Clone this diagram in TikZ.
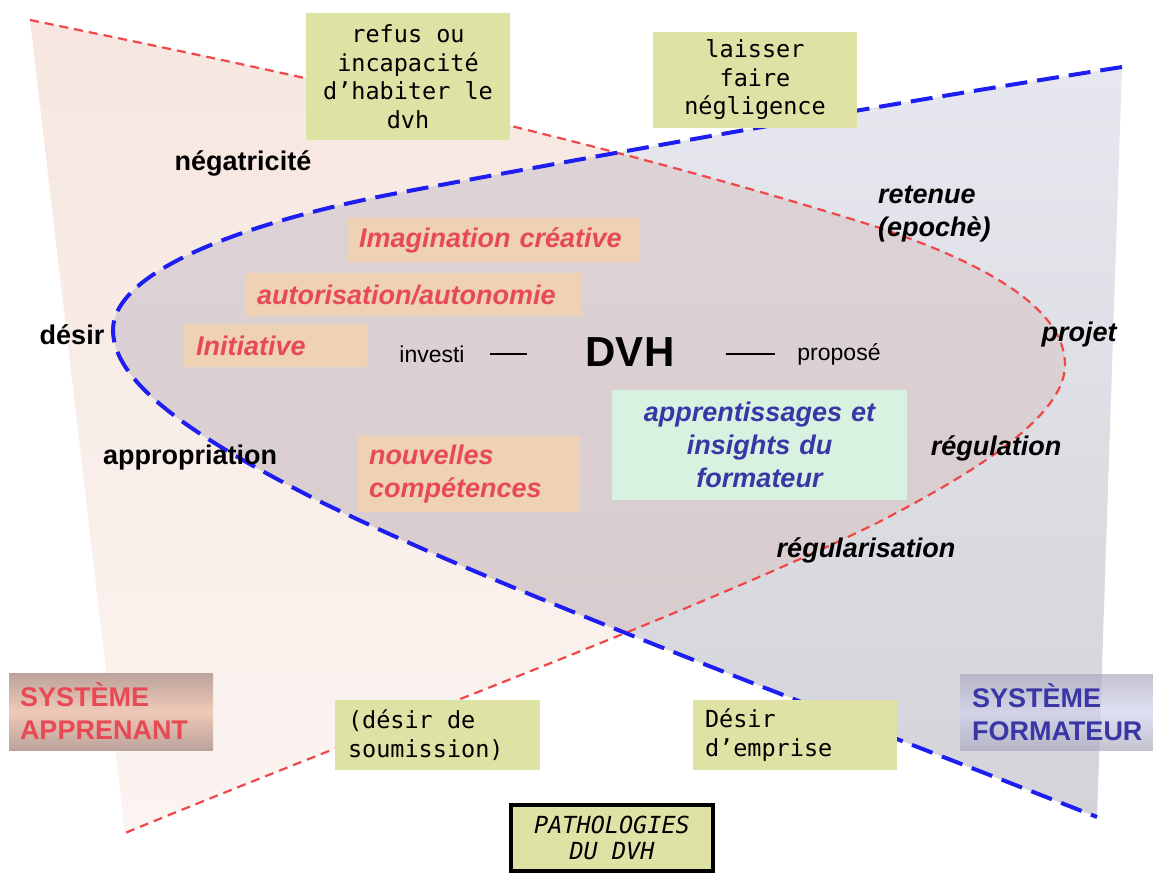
\documentclass[tikz,border=0pt]{standalone}
\usepackage{fontspec}
\setsansfont{Liberation Sans}
\setmonofont{DejaVu Sans Mono}
\usepackage{tikz}

\newcommand{\esp}{\hspace{0.602em}}
\newcommand{\apprenantcurve}{(30,20) .. controls (300,75) and (600,140) .. (877,227) .. controls (960,255) and (1065,300) .. (1065,365) .. controls (1065,420) and (960,480) .. (877,523) .. controls (700,610) and (400,720) .. (125,833)}
\newcommand{\formateurcurve}{(1122,67) .. controls (880,105) and (600,155) .. (398,193) .. controls (250,221) and (113,270) .. (113,330) .. controls (113,385) and (200,440) .. (317,500) .. controls (500,590) and (800,700) .. (1097,817)}

\begin{document}
\begin{tikzpicture}[x=1pt, y=-1pt,
	mot/.style={font=\sffamily\bfseries\fontsize{27}{33}\selectfont, inner sep=0pt},
	motital/.style={font=\sffamily\bfseries\itshape\fontsize{27}{33}\selectfont, inner sep=0pt},
	petitmot/.style={font=\sffamily\fontsize{23}{28}\selectfont, inner sep=0pt},
	boitepatho/.style={fill=pathofond, font=\ttfamily\fontsize{23.5}{28.5}\selectfont, inner xsep=7pt, inner ysep=0pt, align=center},
	boiteorange/.style={fill=orangefond, text=rougetexte, font=\sffamily\bfseries\itshape\fontsize{27}{33}\selectfont, inner xsep=12pt, inner ysep=0pt, align=left},
	systeme/.style={font=\sffamily\bfseries\fontsize{27}{33}\selectfont, inner xsep=11pt, inner ysep=0pt, minimum height=77pt, align=left}]
	\definecolor{apprenanthaut}{HTML}{F6E6DF}
	\definecolor{apprenantbas}{HTML}{FBF4F1}
	\definecolor{formateurhaut}{HTML}{E7E7EF}
	\definecolor{formateurbas}{HTML}{D3D3D9}
	\definecolor{communhaut}{HTML}{DED4D8}
	\definecolor{communbas}{HTML}{D6C9CA}
	\definecolor{tiretrouge}{HTML}{F04848}
	\definecolor{tiretbleu}{HTML}{1E1EF0}
	\definecolor{pathofond}{HTML}{DFE2A5}
	\definecolor{orangefond}{HTML}{EFD2B4}
	\definecolor{vertfond}{HTML}{D7F2E1}
	\definecolor{rougetexte}{HTML}{E84A55}
	\definecolor{bleutexte}{HTML}{3A36A6}
	\definecolor{sysrougebord}{HTML}{BBA39C}
	\definecolor{sysrougemilieu}{HTML}{EFC9B7}
	\definecolor{sysbleubord}{HTML}{A9A9BD}
	\definecolor{sysbleumilieu}{HTML}{D2D2EE}

	\useasboundingbox (0,0) rectangle (1153,875);

	% les deux systemes et leur zone commune
	\shade[top color=apprenanthaut, bottom color=apprenantbas] \apprenantcurve -- cycle;
	\shade[top color=formateurhaut, bottom color=formateurbas] \formateurcurve -- cycle;
	\begin{scope}
		\clip \apprenantcurve -- cycle;
		\shade[top color=communhaut, bottom color=communbas] \formateurcurve -- cycle;
	\end{scope}
	\draw[tiretrouge, line width=2.2pt, dash pattern=on 9pt off 6pt] \apprenantcurve;
	\draw[tiretbleu, line width=4pt, dash pattern=on 22pt off 10pt] \formateurcurve;

	% pathologies
	\node[boitepatho, text width=190pt, minimum height=127pt] (refus) at (408,76.5) {refus\esp ou\\incapacité\\d’habiter\esp le\\dvh};
	\node[boitepatho, text width=190pt, minimum height=96pt] (laisser) at (755,80) {laisser\\faire\\négligence};
	\node[boitepatho, text width=179pt, inner xsep=13pt, align=left, minimum height=70pt] (soumission) at (437.5,735) {(désir\esp de\\soumission)};
	\node[boitepatho, text width=180pt, inner xsep=12pt, align=left, minimum height=70pt] (emprise) at (795,735) {Désir\\d’emprise};
	\node[boitepatho, draw=black, line width=4pt, text width=188pt, minimum height=66pt, font=\ttfamily\itshape\fontsize{23.5}{26}\selectfont] (pathologies) at (612,838) {PATHOLOGIES\\DU\esp DVH};

	% cote apprenant
	\node[boiteorange, text width=269pt, minimum height=44pt] (imagination) at (493.5,240) {Imagination créative};
	\node[boiteorange, text width=313pt, minimum height=43pt] (autorisation) at (413.5,294.5) {autorisation/autonomie};
	\node[boiteorange, text width=159pt, minimum height=43pt] (initiative) at (275.5,345.5) {Initiative};
	\node[boiteorange, text width=199pt, minimum height=76pt] (nouvelles) at (468.5,474) {nouvelles\\compétences};

	% cote formateur
	\node[fill=vertfond, text=bleutexte, font=\sffamily\bfseries\itshape\fontsize{27}{33}\selectfont, text width=281pt, inner xsep=7pt, inner ysep=0pt, minimum height=110pt, align=center] (apprentissages) at (759.5,445) {apprentissages et\\insights du\\formateur};

	\node[systeme, top color=sysrougebord, bottom color=sysrougebord, middle color=sysrougemilieu, text=rougetexte, text width=182pt] (apprenant) at (111,711.5) {SYSTÈME\\APPRENANT};
	\node[systeme, top color=sysbleubord, bottom color=sysbleubord, middle color=sysbleumilieu, fill opacity=0.7, text opacity=1, text=bleutexte, text width=182pt, inner xsep=12pt, minimum height=76pt] (formateur) at (1063,712) {SYSTÈME\\FORMATEUR};

	% mots
	\node[mot] (negatricite) at (243,163) {négatricité};
	\node[mot] (desir) at (72,335) {désir};
	\node[mot] (appropriation) at (190,458) {appropriation};
	\node[motital, anchor=west, align=left] (retenue) at (878,213.5) {retenue\\(epochè)};
	\node[motital] (projet) at (1079,335) {projet};
	\node[motital] (regulation) at (996,448) {régulation};
	\node[motital] (regularisation) at (866,550) {régularisation};

	\node[petitmot] (investi) at (432,354) {investi};
	\node[font=\sffamily\bfseries\fontsize{42}{42}\selectfont, inner sep=0pt] (dvh) at (630,352) {DVH};
	\node[petitmot] (propose) at (839,354) {proposé};
	\draw[line width=1.6pt, shorten <=25pt, shorten >=58pt] (investi.east) -- (investi.east -| dvh.west);
	\draw[line width=1.6pt, shorten <=51pt, shorten >=22pt] (propose.west -| dvh.east) -- (propose.west);
\end{tikzpicture}
\end{document}
